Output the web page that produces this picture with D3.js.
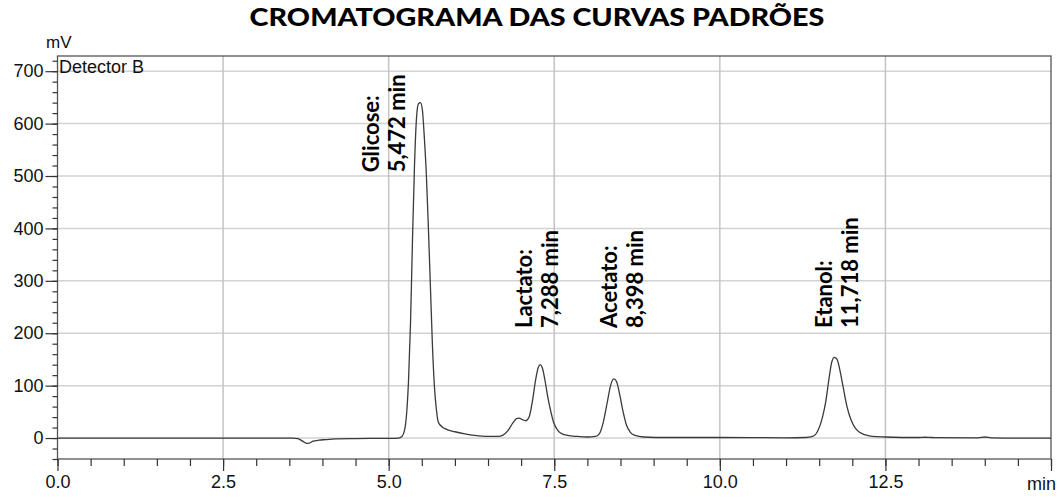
<!DOCTYPE html>
<html><head><meta charset="utf-8">
<script src="https://cdn.jsdelivr.net/npm/d3@7"></script>
<style>
body{margin:0;background:#fff;}
svg{display:block;}
</style></head>
<body>
<svg id="chart" width="1059" height="499"></svg>
<script>
// ---- data ----
const chartTitle = "CROMATOGRAMA DAS CURVAS PADRÕES";
const detectorLabel = "Detector B";
const xUnit = "min";
const yUnit = "mV";
const xMajorTicks = [0, 2.5, 5, 7.5, 10, 12.5, 15];
const xTickLabels = ["0.0", "2.5", "5.0", "7.5", "10.0", "12.5", ""];
const yMajorTicks = [0, 100, 200, 300, 400, 500, 600, 700];
const yTickLabels = ["0", "100", "200", "300", "400", "500", "600", "700"];

const timeMin = [0, 1, 2, 3, 3.55, 3.63, 3.7, 3.76, 3.8, 3.86, 3.95, 4.05, 4.2, 4.5, 5.0, 5.15,
  5.2, 5.24, 5.27, 5.3, 5.33, 5.36, 5.39, 5.42, 5.45, 5.48, 5.51, 5.54, 5.57, 5.6, 5.63, 5.66, 5.69,
  5.72, 5.75, 5.8, 5.85, 5.9, 6.0, 6.15, 6.3, 6.5, 6.65, 6.72, 6.8, 6.87, 6.93, 6.97, 7.02, 7.07,
  7.12, 7.17, 7.22, 7.26, 7.29, 7.32, 7.36, 7.4, 7.44, 7.49, 7.55, 7.62, 7.7, 7.85, 8.0, 8.12, 8.18,
  8.24, 8.3, 8.35, 8.4, 8.44, 8.49, 8.54, 8.59, 8.65, 8.72, 8.85, 9.2, 10, 11, 11.3, 11.4, 11.48,
  11.55, 11.6, 11.65, 11.69, 11.73, 11.77, 11.82, 11.87, 11.92, 11.98, 12.04, 12.11, 12.2, 12.3,
  12.5, 13.0, 13.1, 13.2, 13.9, 14.0, 14.1, 14.5, 15];
const signalMv = [0, 0, 0, 0, 0, -1, -6, -10, -9.5, -6, -4, -3, -1.5, -1, -0.5, 0,
  3, 15, 45, 110, 220, 380, 520, 610, 638, 640, 625, 570, 500, 400, 290, 180, 100,
  55, 30, 22, 18, 15, 12, 8, 5, 3, 3, 5, 14, 28, 37, 38, 35, 33,
  40, 70, 112, 135, 140, 134, 110, 80, 55, 30, 15, 8, 5, 3, 2, 3, 8,
  30, 68, 100, 113, 108, 82, 50, 25, 11, 5, 2, 1, 1, 0.5, 1, 3, 14,
  40, 70, 115, 145, 154, 150, 125, 92, 60, 35, 20, 11, 6, 3,
  2, 1, 1.5, 1, 0.5, 2, 0.5, 0, 0];

const peakNames = ["Glicose:", "Lactato:", "Acetato:", "Etanol:"];
const peakTimes = ["5,472 min", "7,288 min", "8,398 min", "11,718 min"];
// label anchors in data units (minutes, mV)
const labelAnchorMin = [4.86, 7.16, 8.44, 11.69];
const labelAnchorMv = [507, 210, 210, 210];

// ---- layout ----
const M = {left: 57.5, right: 1051, top: 56, bottom: 459};
const svg = d3.select("#chart");

const x = d3.scaleLinear().domain([0, 15]).range([M.left, M.right]);
const y = d3.scaleLinear().domain([-40, 729]).range([M.bottom, M.top]);

const tickFont = "'Liberation Sans', Arial, Helvetica, sans-serif";

// gridlines
svg.append("g").selectAll("line").data(yMajorTicks).join("line")
  .attr("x1", M.left).attr("x2", M.right)
  .attr("y1", d => y(d)).attr("y2", d => y(d))
  .attr("stroke", "#d2d2d2").attr("stroke-width", 1.5);
svg.append("g").selectAll("line").data(xMajorTicks.filter(d => d > 0 && d < 15)).join("line")
  .attr("x1", d => x(d)).attr("x2", d => x(d))
  .attr("y1", M.top).attr("y2", M.bottom)
  .attr("stroke", "#c4c4c4").attr("stroke-width", 1.5);

// frame
svg.append("rect").attr("x", M.left).attr("y", M.top)
  .attr("width", M.right - M.left).attr("height", M.bottom - M.top)
  .attr("fill", "none").attr("stroke", "#555").attr("stroke-width", 1.3);

// axes
const xMinor = d3.range(0, 15.001, 0.5);
const yMinor = d3.range(-40, 721, 20);

const xAxisMinor = d3.axisBottom(x).tickValues(xMinor).tickSize(7).tickFormat("");
const xAxisMajor = d3.axisBottom(x).tickValues(xMajorTicks).tickSize(12)
  .tickFormat((d, i) => xTickLabels[i]).tickPadding(4);
const yAxisMinor = d3.axisLeft(y).tickValues(yMinor).tickSize(5).tickFormat("");
const yAxisMajor = d3.axisLeft(y).tickValues(yMajorTicks).tickSize(12)
  .tickFormat((d, i) => yTickLabels[i]).tickPadding(2);

function styleAxis(g) {
  g.select(".domain").remove();
  g.selectAll("line").attr("stroke", "#333").attr("stroke-width", 1.2);
  g.selectAll("text").attr("font-family", tickFont).attr("font-size", 18).attr("fill", "#111");
}
svg.append("g").attr("transform", `translate(0,${M.bottom})`).call(xAxisMinor).call(styleAxis);
svg.append("g").attr("transform", `translate(0,${M.bottom})`).call(xAxisMajor).call(styleAxis);
svg.append("g").attr("transform", `translate(${M.left},0)`).call(yAxisMinor).call(styleAxis);
svg.append("g").attr("transform", `translate(${M.left},0)`).call(yAxisMajor).call(styleAxis);

// unit labels
svg.append("text").attr("x", 46).attr("y", 48).text(yUnit)
  .attr("font-family", tickFont).attr("font-size", 17).attr("fill", "#111");
svg.append("text").attr("x", 1056).attr("y", 490).attr("text-anchor", "end").text(xUnit)
  .attr("font-family", tickFont).attr("font-size", 18).attr("fill", "#111");
svg.append("text").attr("x", M.left + 1.5).attr("y", 73).text(detectorLabel)
  .attr("font-family", tickFont).attr("font-size", 18).attr("fill", "#111");

// signal line
const pts = timeMin.map((t, i) => [t, signalMv[i]]);
const line = d3.line().x(d => x(d[0])).y(d => y(d[1])).curve(d3.curveMonotoneX);
svg.append("path").datum(pts).attr("d", line)
  .attr("fill", "none").attr("stroke", "#3a3a3a").attr("stroke-width", 1.3);

// peak annotations
const annFont = "Lato, 'Open Sans', sans-serif";
peakNames.forEach((name, i) => {
  const ax = x(labelAnchorMin[i]), ay = y(labelAnchorMv[i]);
  const g = svg.append("g").attr("transform", `translate(${ax},${ay}) rotate(-90)`);
  g.append("text").attr("x", 0).attr("y", 0).text(name)
    .attr("font-family", annFont).attr("font-weight", "bold").attr("font-size", 22).attr("fill", "#000");
  g.append("text").attr("x", 0).attr("y", 26).text(peakTimes[i])
    .attr("font-family", annFont).attr("font-weight", "bold").attr("font-size", 22).attr("fill", "#000");
});

// title (glyphs widened horizontally to the reference width)
const titleG = svg.append("g");
const titleT = titleG.append("text").attr("x", 0).attr("y", 0).attr("text-anchor", "middle").text(chartTitle)
  .attr("font-family", annFont).attr("font-weight", 900).attr("font-size", 24).attr("fill", "#000");
const tLen = titleT.node().getComputedTextLength();
titleG.attr("transform", `translate(537,26) scale(${575 / tLen},1)`);
</script>
</body></html>
